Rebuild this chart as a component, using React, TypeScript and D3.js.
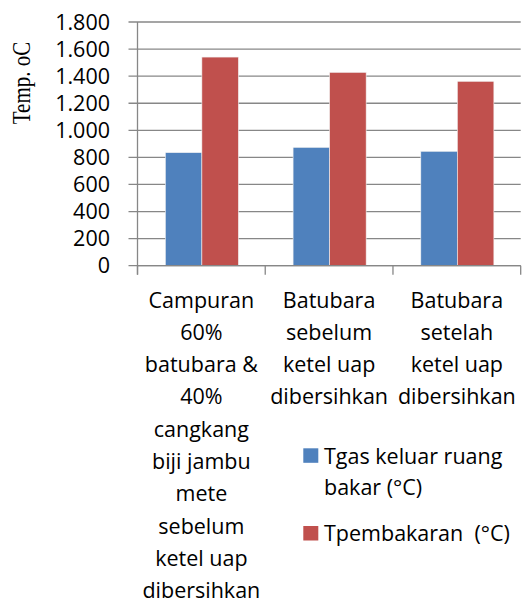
import React from 'react';
import * as d3 from 'd3';

// data
const categories = [
  ['Campuran', '60%', 'batubara &', '40%', 'cangkang', 'biji jambu', 'mete', 'sebelum', 'ketel uap', 'dibersihkan'],
  ['Batubara', 'sebelum', 'ketel uap', 'dibersihkan'],
  ['Batubara', 'setelah', 'ketel uap', 'dibersihkan'],
];
const seriesNames = ['Tgas keluar ruang bakar (°C)', 'Tpembakaran  (°C)'];
const tgas = [835, 874, 845];
const tpembakaran = [1541, 1428, 1362];
const yTicks = [0, 200, 400, 600, 800, 1000, 1200, 1400, 1600, 1800];
const colors = ['#4F81BD', '#C0504D'];

const W = 524;
const H = 605;
const margin = { top: 22, left: 137.5, right: 3.3, bottom: 339.3 };
const font = '"Open Sans", sans-serif';
const grid = '#878787';

const fmt = (v: number) => d3.format(',')(v).replace(/,/g, '.');

const App = () => {
  const plotW = W - margin.left - margin.right;
  const plotH = H - margin.top - margin.bottom;
  const idx = categories.map((_, i) => i);

  const x = d3.scaleBand<number>().domain(idx).range([margin.left, margin.left + plotW]).padding(0);
  const inner = d3
    .scaleBand<number>()
    .domain([0, 1])
    .range([x.bandwidth() * 0.218, x.bandwidth() * 0.79]);
  const y = d3.scaleLinear().domain([0, 1800]).range([margin.top + plotH, margin.top]);

  const values = [tgas, tpembakaran];
  const y0 = y(0);

  return (
    <svg width={W} height={H} style={{ position: 'absolute', left: 0, top: 0 }}>
      <rect width={W} height={H} fill="#fff" />
      {/* gridlines and y ticks */}
      {yTicks.map(t => (
        <g key={t}>
          <line x1={margin.left - 9} x2={margin.left + plotW} y1={y(t)} y2={y(t)} stroke={grid} strokeWidth={1.3} />
          <text
            x={110}
            y={y(t)}
            dy="0.36em"
            textAnchor="end"
            fontFamily={font}
            fontSize={21.5}
            fill="#000"
          >
            {fmt(t)}
          </text>
        </g>
      ))}
      {/* bars */}
      {values.map((vals, s) =>
        vals.map((v, i) => (
          <rect
            key={`${s}-${i}`}
            x={(x(i) as number) + (inner(s) as number)}
            y={y(v)}
            width={inner.bandwidth()}
            height={y0 - y(v)}
            fill={colors[s]}
            stroke="#f2f2f2"
            strokeWidth={0.6}
          />
        ))
      )}
      {/* axes */}
      <line x1={margin.left} x2={margin.left} y1={margin.top} y2={y0 + 9} stroke={grid} strokeWidth={1.3} />
      <line x1={margin.left} x2={margin.left + plotW} y1={y0} y2={y0} stroke={grid} strokeWidth={1.3} />
      {[...idx, categories.length].map(i => {
        const xx = margin.left + i * x.step();
        return <line key={i} x1={xx} x2={xx} y1={y0} y2={y0 + 9} stroke={grid} strokeWidth={1.3} />;
      })}
      {/* category labels */}
      {categories.map((lines, i) => (
        <text
          key={i}
          textAnchor="middle"
          fontFamily={font}
          fontSize={21.5}
          fill="#000"
        >
          {lines.map((l, j) => (
            <tspan key={j} x={(x(i) as number) + x.bandwidth() / 2} y={307.5 + j * 32.3}>
              {l}
            </tspan>
          ))}
        </text>
      ))}
      {/* legend */}
      <rect x={303.3} y={448.3} width={15} height={14.5} fill={colors[0]} />
      <text fontFamily={font} fontSize={21.5} fill="#000">
        <tspan x={324} y={464.3}>Tgas keluar ruang</tspan>
        <tspan x={324} y={495.3}>bakar (°C)</tspan>
      </text>
      <rect x={303.3} y={526} width={15} height={14.5} fill={colors[1]} />
      <text x={324} y={540.5} fontFamily={font} fontSize={21.5} fill="#000" style={{ whiteSpace: 'pre' }}>
        {seriesNames[1]}
      </text>
      {/* y axis title */}
      <text
        transform="translate(29.5,83) rotate(-90) scale(0.84,1)"
        textAnchor="middle"
        fontFamily='"Liberation Serif", "Times New Roman", serif'
        fontSize={25}
        fill="#000"
      >
        Temp. oC
      </text>
    </svg>
  );
};

export default App;
